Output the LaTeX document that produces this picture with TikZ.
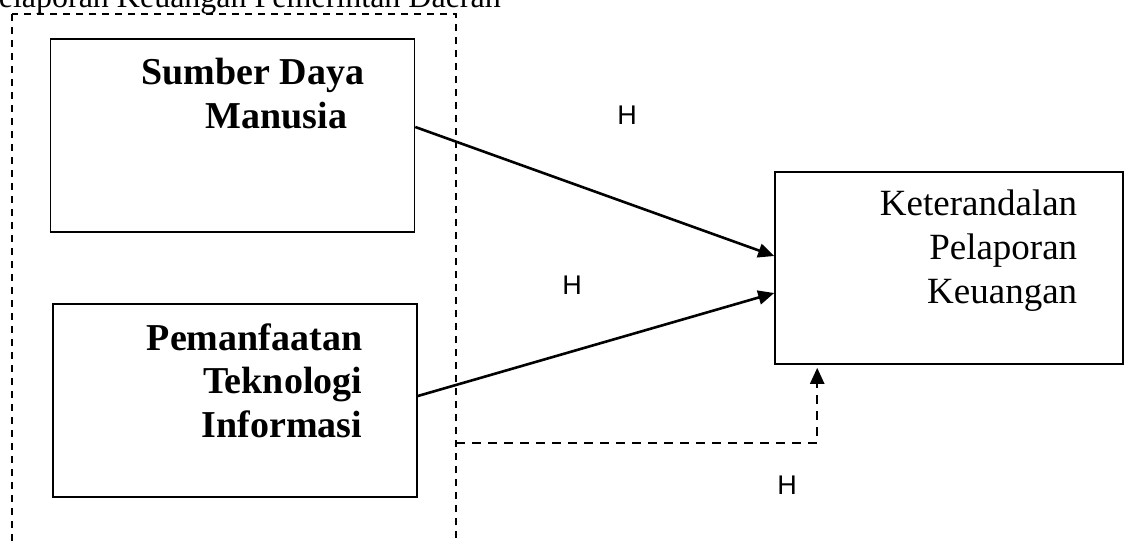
\documentclass[tikz,border=0pt]{standalone}
\usepackage{fontspec}
\setmainfont{Liberation Serif}
\newfontfamily\hypfont{Liberation Sans}
\usetikzlibrary{arrows.meta, calc, positioning}
\tikzset{%
  every path/.style={thick},
    edge/.style={%
        -{Triangle[length=8pt, width=7pt]},
        line width=1.3pt,
    },
    modedge/.style={%
        -{Triangle[length=8pt, width=7pt]},
        line width=1.15pt,
        dash pattern=on 4.5pt off 3.5pt,
    },
    groupbox/.style={%
        draw=black, line width=0.8pt,
        dash pattern=on 3.3pt off 3.2pt,
    },
    varbox/.style={%
        rectangle,
        draw=black, line width=0.8pt,
        inner sep=0pt,
        minimum width=182pt,
        minimum height=96.5pt,
    },
    depbox/.style={%
        rectangle,
        draw=black, line width=0.8pt,
        inner sep=0pt,
        minimum width=174pt,
        minimum height=96pt,
    },
    vartext/.style={%
        font=\fontsize{19}{21.75}\selectfont\bfseries,
        align=right, inner sep=0pt, anchor=base east,
    },
    deptext/.style={%
        font=\fontsize{18.5}{22}\selectfont,
        align=right, inner sep=0pt, anchor=base east,
    },
    hyp/.style={%
        font=\hypfont\fontsize{13.5}{16}\selectfont,
        inner sep=0pt,
    },
}

\begin{document}
\begin{tikzpicture}[x=0.5pt, y=-0.5pt]
	\useasboundingbox (0,0) rectangle (1125,543);

	\node [anchor=base west, inner sep=0pt, font=\fontsize{16}{19}\selectfont] (title) at (-2,7) {elaporan Keuangan Pemerintah Daerah};

	\draw[groupbox] (12,14) rectangle (456,600);

	\node [varbox] at (232.5,135.5) (sdm) {};
	\node [varbox] at (235,400.5) (pti) {};
	\node [depbox] at (949,268) (ketr) {};

	% base anchor sits on the last line
	\node [vartext] at (365,128) (sdm_txt) {Sumber Daya\\Manusia\kern8.5pt};
	\node [vartext] at (363,437) (pti_txt) {Pemanfaatan\\Teknologi\\Informasi};
	\node [deptext] at (1078,303) (ketr_txt) {Keterandalan\\Pelaporan\\Keuangan};

	\node [hyp] at (627,115) (h1) {H};
	\node [hyp] at (572,285) (h2) {H};
	\node [hyp] at (787,485) (h3) {H};

	\coordinate (mod_start) at (456,443);

	\draw[edge] ($(sdm.east) + (0,-8.5)$) -- ($(ketr.west) + (0,-12)$);
	\draw[edge] ($(pti.east) + (0,-4.5)$) -- ($(ketr.west) + (0,25)$);
	\draw[modedge] (mod_start) -| ($(ketr.south west) + (43,3)$);
\end{tikzpicture}
\end{document}
